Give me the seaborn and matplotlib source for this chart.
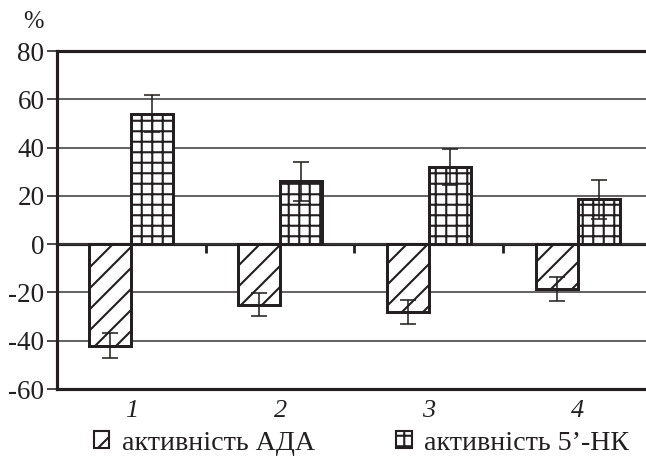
import matplotlib
matplotlib.use("Agg")
import matplotlib.pyplot as plt
from matplotlib import font_manager
from matplotlib.font_manager import FontProperties
import seaborn as sns
import pandas as pd

# Groups on the x axis
categories = ["1", "2", "3", "4"]
# Series names (legend)
series = ["активність АДА", "активність 5’-НК"]
# Change of activity, %
ada_values = [-42.0, -25.0, -28.0, -18.5]
ada_errors = [5.0, 4.8, 5.0, 5.0]
nk_values = [54.0, 26.0, 32.0, 18.5]
nk_errors = [7.7, 8.2, 7.5, 8.0]
y_ticks = [-60, -40, -20, 0, 20, 40, 60, 80]

INK = "#231f20"
DPI = 126

sns.set_theme(style="white")
plt.rcParams["font.serif"] = ["Liberation Serif", "DejaVu Serif"]
plt.rcParams["font.family"] = "serif"
plt.rcParams["hatch.linewidth"] = 1.2
plt.rcParams["hatch.color"] = INK

# Times-like serif faces, looked up by file
serif_files = {}
for f in font_manager.fontManager.ttflist:
    if f.name == "Liberation Serif" and f.weight in (400, "normal", "regular"):
        serif_files.setdefault(f.style, f.fname)


def serif(size, style="normal"):
    path = serif_files.get(style)
    if path:
        return FontProperties(fname=path, size=size)
    return FontProperties(family="serif", style=style, size=size)


df = pd.DataFrame({
    "group": categories * 2,
    "series": [series[0]] * len(categories) + [series[1]] * len(categories),
    "value": ada_values + nk_values,
})
errors = [ada_errors, nk_errors]

fig = plt.figure(figsize=(646 / DPI, 462 / DPI), dpi=DPI)
ax = fig.add_axes([0.0882, 0.158, 0.921, 0.7316])

sns.barplot(data=df, x="group", y="value", hue="series", order=categories,
            hue_order=series, width=0.565, gap=0, errorbar=None,
            palette=["white", "white"], edgecolor=INK,
            linewidth=1.7, legend=False, ax=ax, zorder=3)

hatches = ["//", "++"]
for container, hatch, err in zip(ax.containers, hatches, errors):
    xs, tops = [], []
    for bar in container.patches:
        bar.set_hatch(hatch)
        bar.set_facecolor("white")
        bar.set_edgecolor(INK)
        xs.append(bar.get_x() + bar.get_width() / 2)
        tops.append(bar.get_y() + bar.get_height())
    ax.errorbar(xs, tops, yerr=err, fmt="none", ecolor=INK, elinewidth=0.9,
                capsize=4.6, capthick=0.9, zorder=5)

ax.set_ylim(-60, 80)
ax.set_xlim(-0.5, 3.5)
ax.set_yticks(y_ticks)
ax.set_yticklabels([str(t) for t in y_ticks], color=INK)
for lab in ax.get_yticklabels():
    lab.set_fontproperties(serif(15.5))
ax.set_xlabel("")
ax.set_ylabel("")
ax.set_axisbelow(True)
ax.yaxis.grid(True, color="#3c3c3c", linewidth=0.9)
ax.xaxis.grid(False)

for name in ["left", "top", "bottom"]:
    ax.spines[name].set_visible(True)
    ax.spines[name].set_color(INK)
    ax.spines[name].set_linewidth(1.8)
ax.spines["right"].set_visible(False)

ax.tick_params(axis="y", direction="out", length=5.7, width=0.9, pad=1.5,
               left=True, colors=INK)
ax.tick_params(axis="x", length=0, pad=6, colors=INK)
for lab in ax.get_xticklabels():
    lab.set_fontproperties(serif(15, "italic"))

# Category axis through zero with ticks between the groups
zero_axis = ax.secondary_xaxis(0, transform=ax.transData)
zero_axis.set_xticks([0.5, 1.5, 2.5])
zero_axis.set_xticklabels([])
zero_axis.tick_params(direction="out", length=5.2, width=1.6, colors=INK)
zero_axis.spines["bottom"].set_linewidth(1.8)
zero_axis.spines["bottom"].set_color(INK)

fig.text(33 / 646, 1 - 22 / 462, "%", fontproperties=serif(14), color=INK,
         ha="center", va="center")

leg = fig.legend(handles=list(ax.containers), labels=series, loc="center",
                 bbox_to_anchor=(0.56, 0.041), ncol=2, frameon=False,
                 prop=serif(16), handlelength=0.55, handleheight=0.55,
                 handletextpad=0.45, columnspacing=2.9, labelcolor=INK)
for handle in leg.legend_handles:
    handle.set_linewidth(1.2)

fig.savefig("out.png", dpi=DPI)
